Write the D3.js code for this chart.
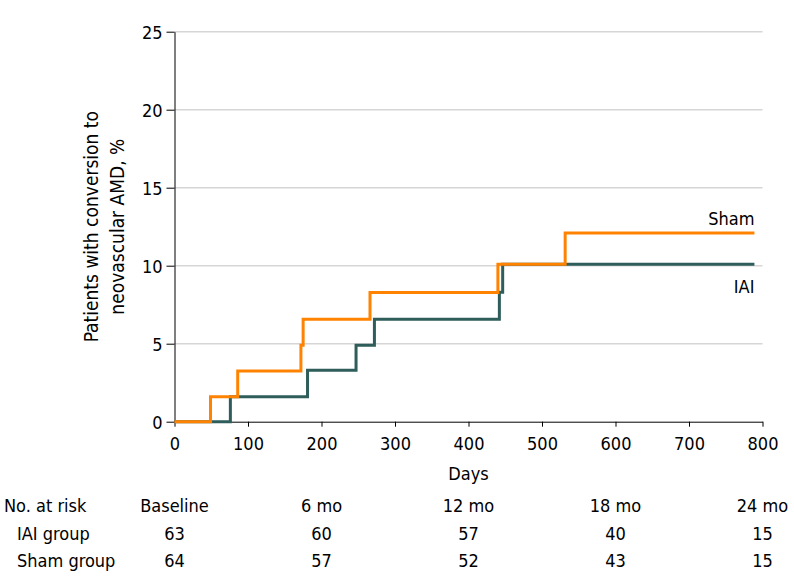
<!DOCTYPE html>
<html>
<head>
<meta charset="utf-8">
<script src="https://cdn.jsdelivr.net/npm/d3@7"></script>
<style>
  html, body { margin: 0; padding: 0; background: #fff; }
  svg { display: block; font-family: "DejaVu Sans Condensed", "DejaVu Sans", sans-serif; font-stretch: condensed; }
</style>
</head>
<body>
<svg id="chart" width="794" height="588"></svg>
<script>
// ---- Data ----
const iaiDays  = [0, 76, 181, 247, 272, 442, 446.5, 789];
const iaiPct   = [0, 1.6, 3.3, 4.9, 6.56, 8.3, 10.1, 10.1];
const shamDays = [0, 49, 86, 172, 175, 266, 440, 531.5, 789];
const shamPct  = [0, 1.6, 3.25, 4.9, 6.56, 8.29, 10.1, 12.1, 12.1];

const xTicks = [0, 100, 200, 300, 400, 500, 600, 700, 800];
const yTicks = [0, 5, 10, 15, 20, 25];

const riskHeaders = ["Baseline", "6 mo", "12 mo", "18 mo", "24 mo"];
const riskColDays = [0, 200, 400, 600, 800];
const iaiAtRisk  = [63, 60, 57, 40, 15];
const shamAtRisk = [64, 57, 52, 43, 15];

const colors = { iai: "#2E5D5A", sham: "#FF8300" };
const FONT = '"DejaVu Sans Condensed", "DejaVu Sans", sans-serif';

// ---- Layout ----
const svg = d3.select("#chart");
const x = d3.scaleLinear().domain([0, 800]).range([174.5, 762.5]);
const y = d3.scaleLinear().domain([0, 25]).range([421.7, 31.7]);

// gridlines
svg.append("g")
  .selectAll("line")
  .data(yTicks.filter(d => d > 0))
  .join("line")
  .attr("x1", x(0)).attr("x2", x(800))
  .attr("y1", d => y(d)).attr("y2", d => y(d))
  .attr("stroke", "#d6d6d6").attr("stroke-width", 1.5);

// axes
const yAxis = svg.append("g")
  .attr("transform", `translate(${x(0)},0)`)
  .call(d3.axisLeft(y).tickValues(yTicks).tickSize(8).tickPadding(4).tickSizeOuter(0));
const xAxis = svg.append("g")
  .attr("transform", `translate(0,${y(0)})`)
  .call(d3.axisBottom(x).tickValues(xTicks).tickSize(5).tickPadding(6).tickSizeOuter(0));

[yAxis, xAxis].forEach(a => {
  a.select(".domain").attr("stroke", "#000").attr("stroke-width", 1);
  a.selectAll(".tick line").attr("stroke", "#000").attr("stroke-width", 1);
  a.selectAll(".tick text")
    .attr("fill", "#000")
    .style("font-family", FONT)
    .style("font-size", "18px");
});
xAxis.selectAll(".tick text").attr("dy", null).attr("y", 0)
  .attr("transform", "translate(0,28.5)");
yAxis.selectAll(".tick text").attr("dy", "0.36em");

// y axis title
const yTitle = svg.append("text")
  .attr("transform", `translate(0,${(y(0) + y(25)) / 2}) rotate(-90)`)
  .attr("text-anchor", "middle")
  .style("font-size", "19px")
  .attr("fill", "#000");
yTitle.append("tspan").attr("x", 0).attr("y", 98).text("Patients with conversion to");
yTitle.append("tspan").attr("x", 0).attr("y", 124).text("neovascular AMD, %");

// x axis title
svg.append("text")
  .attr("x", x(400)).attr("y", 480)
  .attr("text-anchor", "middle")
  .style("font-size", "18px")
  .attr("fill", "#000")
  .text("Days");

// step lines
const line = d3.line()
  .x(d => x(d[0]))
  .y(d => y(d[1]))
  .curve(d3.curveStepAfter);

svg.append("path")
  .datum(d3.zip(iaiDays, iaiPct))
  .attr("d", line)
  .attr("fill", "none")
  .attr("stroke", colors.iai)
  .attr("stroke-width", 3);

svg.append("path")
  .datum(d3.zip(shamDays, shamPct))
  .attr("d", line)
  .attr("fill", "none")
  .attr("stroke", colors.sham)
  .attr("stroke-width", 3);

// series labels
svg.append("text")
  .attr("x", x(shamDays[shamDays.length - 1])).attr("y", 224.5)
  .attr("text-anchor", "end")
  .style("font-size", "18px")
  .attr("fill", "#000")
  .text("Sham");
svg.append("text")
  .attr("x", x(iaiDays[iaiDays.length - 1])).attr("y", 292.5)
  .attr("text-anchor", "end")
  .style("font-size", "18px")
  .attr("fill", "#000")
  .text("IAI");

// at-risk table
const rows = [
  { label: "No. at risk", vals: riskHeaders, y: 512, indent: 4 },
  { label: "IAI group", vals: iaiAtRisk, y: 540, indent: 17 },
  { label: "Sham group", vals: shamAtRisk, y: 567, indent: 17 }
];
rows.forEach(r => {
  svg.append("text")
    .attr("x", r.indent).attr("y", r.y)
    .style("font-size", "18px")
    .attr("fill", "#000")
    .text(r.label);
  svg.append("g")
    .selectAll("text")
    .data(r.vals)
    .join("text")
    .attr("x", (d, i) => x(riskColDays[i]))
    .attr("y", r.y)
    .attr("text-anchor", "middle")
    .style("font-size", "18px")
    .attr("fill", "#000")
    .text(d => d);
});
</script>
</body>
</html>
